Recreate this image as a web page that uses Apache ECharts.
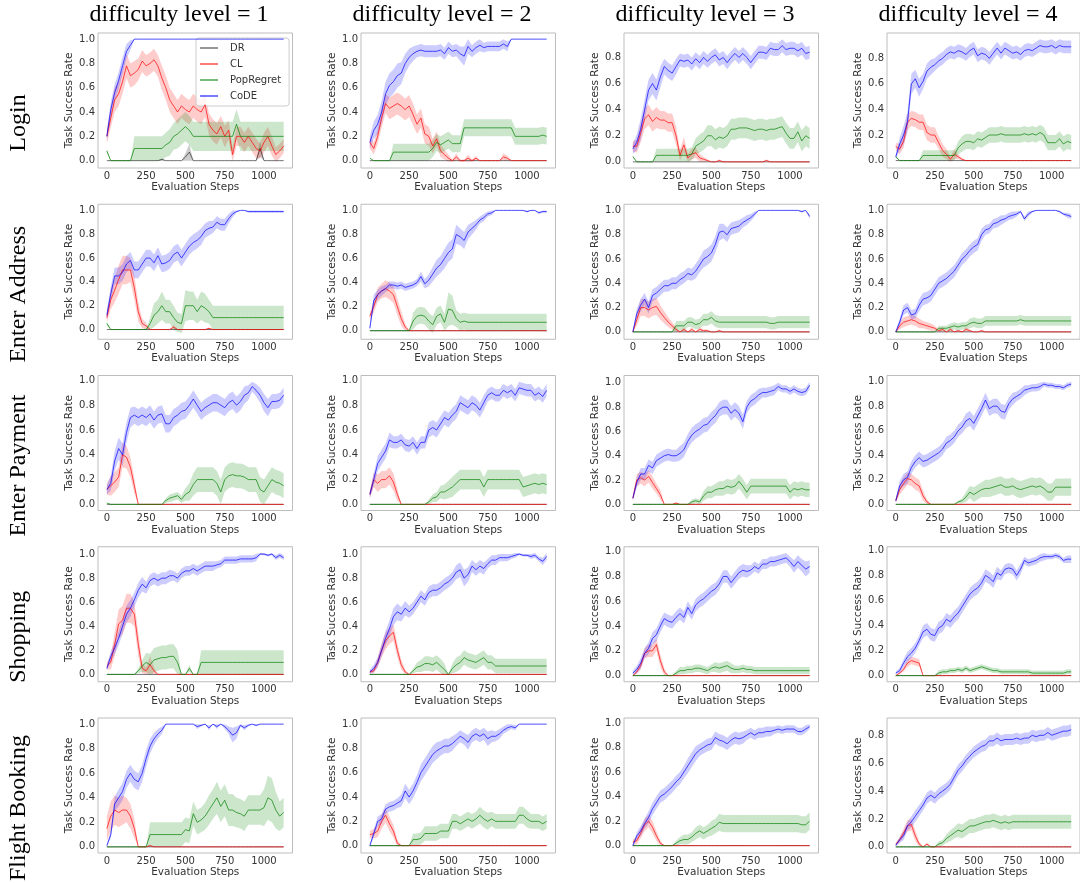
<!DOCTYPE html>
<html><head><meta charset="utf-8">
<script src="https://cdn.jsdelivr.net/npm/echarts@6/dist/echarts.min.js"></script>
<style>html,body{margin:0;padding:0;background:#fff}#c{width:1080px;height:883px}</style>
</head><body><div id="c"></div>
<script>
// ---------------- DATA (success rates in %) ----------------
const steps = [0,25,50,75,100,125,150,175,200,225, 250,275,300,325,350,375,400,425,450,475, 500,525,550,575,600,625,650,675,700,725, 750,775,800,825,850,875,900,925,950,975, 1000,1025,1050,1075,1100,1125];
const rowNames = ['Login','Enter Address','Enter Payment','Shopping','Flight Booking'];
const colTitles = ['difficulty level = 1','difficulty level = 2','difficulty level = 3','difficulty level = 4'];
const methods = ['DR','CL','PopRegret','CoDE'];
const xTicks = [0,250,500,750,1000];
const yTicks = [0,0.2,0.4,0.6,0.8,1.0];

const drFlat = [0,0,0,0,0,0,0,0,0,0, 0,0,0,0,0,0,0,0,0,0, 0,0,0,0,0,0,0,0,0,0, 0,0,0,0,0,0,0,0,0,0, 0,0,0,0,0,0];

// Login
const r1c1_dr = [0,0,0,0,0,0,0,0,0,0, 0,0,0,0,1,0,0,0,0,0, 3,7,0,0,0,0,0,0,0,0, 0,0,0,0,0,0,0,0,0,10, 0,0,0,0,0,0];
const r1c1_drSd = [0,0,0,0,0,0,0,0,0,0, 0,0,0,0,1,0,0,0,0,0, 3,7,0,0,0,0,0,0,0,0, 0,0,0,0,0,0,0,0,0,7, 0,0,0,0,0,0];
const r1c1_cl = [20,35,50,55,65,78,70,72,75,82, 78,80,83,78,68,60,50,45,40,45, 42,40,45,42,40,46,30,25,22,28, 20,25,5,20,20,15,20,15,10,8, 15,20,12,5,8,12];
const r1c1_clSd = [6,8,10,10,10,10,10,10,9,9, 9,9,9,9,10,10,10,10,10,10, 10,10,10,10,10,10,9,9,9,9, 9,8,6,8,8,8,8,8,8,6, 8,8,8,6,6,6];
const r1c1_pr = [8,0,0,0,0,0,0,10,10,10, 10,10,10,10,10,13,15,20,22,25, 28,25,20,20,20,20,20,20,20,20, 20,20,20,30,20,20,20,20,20,20, 20,20,20,20,20,20];
const r1c1_prSd = [2,0,0,0,0,0,0,10,10,10, 10,10,10,10,10,10,11,11,12,12, 12,12,12,12,12,12,12,12,12,12, 12,12,12,12,12,12,12,12,12,12, 12,12,12,12,12,12];
const r1c1_code = [20,42,56,66,78,90,95,100,100,100, 100,100,100,100,100,100,100,100,100,100, 100,100,100,100,100,100,100,100,100,100, 100,100,100,100,100,100,100,100,100,100, 100,100,100,100,100,100];
const r1c1_codeSd = [4,6,7,7,7,6,4,0,0,0, 0,0,0,0,0,0,0,0,0,0, 0,0,0,0,0,0,0,0,0,0, 0,0,0,0,0,0,0,0,0,0, 0,0,0,0,0,0];

const r1c2_cl = [15,10,20,35,47,43,45,47,45,42, 45,38,30,35,22,20,12,18,8,5, 2,0,3,0,0,2,0,2,0,0, 0,0,0,0,3,2,0,0,0,0, 0,0,0,0,0,0];
const r1c2_clSd = [5,5,6,8,8,9,9,9,9,9, 9,9,8,8,8,8,6,6,5,4, 3,1,3,1,1,3,1,2,0,0, 0,0,0,0,3,2,0,0,0,0, 0,0,0,0,0,0];
const r1c2_pr = [2,0,0,0,0,0,7,7,7,7, 7,7,7,7,7,7,10,15,13,15, 17,14,14,14,27,27,27,27,27,27, 27,27,27,27,27,27,27,20,20,20, 20,20,20,20,21,20];
const r1c2_prSd = [0,0,0,0,0,0,7,7,7,7, 7,7,7,7,7,7,7,7,7,7, 7,7,7,7,7,7,7,7,7,7, 7,7,7,7,7,7,7,7,7,7, 7,7,7,7,7,7];
const r1c2_code = [15,25,30,40,55,62,65,70,72,80, 85,88,90,91,90,90,90,90,91,88, 93,90,91,88,86,94,90,93,95,93, 94,94,94,94,96,94,100,100,100,100, 100,100,100,100,100,100];
const r1c2_codeSd = [5,7,8,9,10,10,10,10,9,8, 7,6,5,5,5,5,5,5,5,5, 5,5,5,6,8,6,5,5,5,4, 4,4,4,4,4,4,0,0,0,0, 0,0,0,0,0,0];

const r1c3_cl = [12,12,22,33,36,31,34,32,32,30, 30,20,5,13,3,6,7,3,2,1, 0,0,1,0,0,0,0,0,0,0, 0,0,0,0,1,0,0,0,0,0, 0,0,0,0,0,0];
const r1c3_clSd = [4,5,7,8,8,8,8,7,7,7, 7,7,4,6,3,4,4,3,2,1, 0,0,1,0,0,0,0,0,0,0, 0,0,0,0,1,0,0,0,0,0, 0,0,0,0,0,0];
const r1c3_pr = [4,0,0,0,0,0,5,5,5,5, 5,5,5,5,5,6,12,14,16,20, 20,17,19,18,20,25,25,26,26,26, 25,24,25,25,24,25,25,26,27,22, 18,18,23,16,20,18];
const r1c3_prSd = [1,0,0,0,0,0,5,5,5,5, 5,5,5,5,5,5,6,7,7,8, 8,8,8,8,8,8,8,8,8,8, 8,8,8,8,8,8,8,8,8,8, 8,8,8,8,8,8];
const r1c3_code = [10,15,25,40,55,60,55,65,73,70, 68,73,78,77,78,75,79,76,80,77, 80,82,78,80,76,80,83,80,83,80, 76,80,84,84,83,87,86,86,89,86, 87,87,85,87,83,84];
const r1c3_codeSd = [4,6,8,8,8,8,8,8,6,6, 6,6,5,5,5,5,5,5,5,5, 5,5,5,5,5,5,5,5,5,5, 5,5,5,5,5,5,5,5,5,5, 5,5,5,5,5,5];

const r1c4_cl = [11,9,15,30,33,32,30,30,22,20, 20,14,8,5,1,5,3,1,0,0, 0,0,0,0,0,0,0,0,0,0, 0,0,0,0,0,0,0,0,0,0, 0,0,0,0,0,0];
const r1c4_clSd = [3,4,5,6,6,6,6,6,6,6, 6,5,5,4,2,4,2,1,0,0, 0,0,0,0,0,0,0,0,0,0, 0,0,0,0,0,0,0,0,0,0, 0,0,0,0,0,0];
const r1c4_pr = [3,0,0,0,0,0,0,4,4,4, 4,4,4,4,4,4,10,13,15,15, 14,17,16,18,20,20,20,21,20,20, 20,20,20,21,20,21,20,22,20,14, 14,14,17,13,15,14];
const r1c4_prSd = [1,0,0,0,0,0,0,4,4,4, 4,4,4,4,4,4,5,6,6,6, 6,6,6,6,6,6,6,6,6,6, 6,6,6,6,6,6,6,6,6,6, 6,6,6,6,6,6];
const r1c4_code = [3,13,20,30,60,64,57,62,70,73, 75,78,80,83,85,84,86,85,83,86, 88,82,84,83,80,84,88,84,88,86, 84,85,83,86,87,86,88,90,89,89, 90,88,90,89,89,89];
const r1c4_codeSd = [2,5,7,8,8,7,7,6,6,6, 5,5,5,5,5,5,5,5,5,5, 5,5,5,5,5,5,5,5,5,5, 5,5,5,5,5,5,5,5,5,5, 5,5,5,5,5,5];

// Enter Address
const r2c1_cl = [10,25,33,42,50,50,50,35,15,5, 3,0,0,0,0,0,0,2,0,0, 0,0,0,0,0,0,1,0,0,0, 0,0,0,0,0,0,0,0,0,0, 0,0,0,0,0,0];
const r2c1_clSd = [4,8,10,12,12,12,10,10,8,4, 3,0,0,0,0,0,0,2,0,0, 0,0,0,0,0,0,1,0,0,0, 0,0,0,0,0,0,0,0,0,0, 0,0,0,0,0,0];
const r2c1_pr = [5,0,0,0,0,0,0,0,0,0, 0,5,12,15,20,15,15,10,6,5, 20,20,20,15,20,18,15,10,10,10, 10,10,10,10,10,10,10,10,10,10, 10,10,10,10,10,10];
const r2c1_prSd = [2,0,0,0,0,0,0,0,0,0, 0,5,10,10,12,10,10,10,8,8, 13,12,12,10,12,12,10,10,10,10, 10,10,10,10,10,10,10,10,10,10, 10,10,10,10,10,10];
const r2c1_code = [12,30,45,45,48,55,58,50,50,55, 60,60,56,62,55,56,58,63,65,60, 65,70,73,75,78,83,85,86,90,88, 88,93,97,99,100,100,99,99,99,99, 99,99,99,99,99,99];
const r2c1_codeSd = [4,6,7,7,7,7,7,7,7,7, 7,7,7,7,7,7,7,7,7,7, 7,7,7,7,7,6,6,5,5,5, 5,4,3,1,0,0,1,1,1,1, 1,1,1,1,1,1];

const r2c2_cl = [12,20,30,33,35,33,30,20,10,3, 0,0,0,0,0,0,0,0,0,0, 0,0,0,0,0,0,0,0,0,0, 0,0,0,0,0,0,0,0,0,0, 0,0,0,0,0,0];
const r2c2_clSd = [3,5,6,6,7,7,7,7,6,3, 0,0,0,0,0,0,0,0,0,0, 0,0,0,0,0,0,0,0,0,0, 0,0,0,0,0,0,0,0,0,0, 0,0,0,0,0,0];
const r2c2_pr = [0,0,0,0,0,0,0,0,0,0, 0,8,12,13,12,8,5,12,14,7, 18,17,10,7,8,7,7,7,7,7, 7,7,7,7,7,7,7,7,7,7, 7,7,7,7,7,7];
const r2c2_prSd = [0,0,0,0,0,0,0,0,0,0, 0,7,7,7,7,7,7,7,7,7, 14,12,7,7,7,7,7,7,7,7, 7,7,7,7,7,7,7,7,7,7, 7,7,7,7,7,7];
const r2c2_code = [2,25,30,33,35,38,38,37,38,36, 37,38,40,45,39,42,47,52,55,60, 65,68,80,78,75,82,85,88,92,94, 97,98,100,100,100,100,100,100,100,100, 99,100,100,98,99,99];
const r2c2_codeSd = [2,5,4,4,3,3,3,3,3,3, 3,3,3,4,4,5,6,7,7,8, 8,8,8,7,7,6,5,4,3,3, 2,2,0,0,0,0,0,0,0,0, 1,0,0,1,1,1];

const r2c3_cl = [0,10,20,20,18,20,21,16,12,8, 5,2,0,2,0,2,0,2,1,1, 0,0,1,0,0,0,0,0,0,0, 0,0,0,0,0,0,0,0,0,0, 0,0,0,0,0,0];
const r2c3_clSd = [0,5,7,7,7,7,7,6,5,4, 3,2,0,2,0,2,0,2,1,1, 0,0,1,0,0,0,0,0,0,0, 0,0,0,0,0,0,0,0,0,0, 0,0,0,0,0,0];
const r2c3_pr = [0,0,0,0,0,0,0,0,0,0, 0,5,5,5,8,8,6,7,10,10, 12,9,8,8,8,8,8,8,8,8, 8,8,8,8,8,7,7,8,8,8, 8,8,8,8,8,8];
const r2c3_prSd = [0,0,0,0,0,0,0,0,0,0, 0,4,4,4,4,4,4,4,5,5, 5,5,5,5,5,5,5,5,5,5, 5,5,5,5,5,5,5,5,5,5, 5,5,5,5,5,5];
const r2c3_code = [0,15,22,27,20,30,32,35,38,38, 40,40,43,45,48,47,50,55,60,62, 65,72,82,83,80,85,86,87,90,92, 94,97,100,100,100,100,100,100,100,100, 100,100,100,99,100,95];
const r2c3_codeSd = [1,4,5,5,5,5,5,5,5,5, 5,5,5,5,5,5,6,6,7,7, 7,7,7,6,6,5,5,5,4,4, 3,2,0,0,0,0,0,0,0,0, 0,0,0,1,0,2];

const r2c4_cl = [0,5,8,9,10,9,7,6,5,4, 3,1,2,0,2,0,1,0,2,1, 0,0,1,0,0,0,0,0,0,0, 0,0,0,0,0,0,0,0,0,0, 0,0,0,0,0,0];
const r2c4_clSd = [0,3,4,4,4,4,4,3,3,3, 2,1,2,0,2,0,1,0,2,1, 0,0,1,0,0,0,0,0,0,0, 0,0,0,0,0,0,0,0,0,0, 0,0,0,0,0,0];
const r2c4_pr = [0,0,0,0,0,0,0,0,0,0, 0,3,3,3,4,5,4,5,5,7, 8,7,7,9,9,9,9,9,9,9, 9,9,10,9,9,9,9,9,9,9, 9,9,9,9,9,9];
const r2c4_prSd = [0,0,0,0,0,0,0,0,0,0, 0,2,2,2,3,3,3,3,3,4, 4,4,4,4,4,4,4,4,4,4, 4,4,4,4,4,4,4,4,4,4, 4,4,4,4,4,4];
const r2c4_code = [0,8,18,20,14,15,22,27,28,30, 35,40,42,44,47,50,55,60,63,67, 70,72,80,84,85,89,90,92,93,95, 96,97,99,93,97,99,100,100,100,100, 100,100,99,97,96,95];
const r2c4_codeSd = [1,3,4,4,4,4,5,5,5,5, 5,5,5,5,5,5,5,5,5,5, 5,5,5,4,4,4,4,4,3,3, 3,2,1,2,2,1,0,0,0,0, 0,0,1,1,2,2];

// Enter Payment
const r3c1_cl = [12,15,18,22,40,38,30,15,0,0, 0,0,0,0,0,0,0,0,0,0, 0,0,0,0,0,0,0,0,0,0, 0,0,0,0,0,0,0,0,0,0, 0,0,0,0,0,0];
const r3c1_clSd = [4,8,8,8,10,9,8,6,0,0, 0,0,0,0,0,0,0,0,0,0, 0,0,0,0,0,0,0,0,0,0, 0,0,0,0,0,0,0,0,0,0, 0,0,0,0,0,0];
const r3c1_pr = [1,0,0,0,0,0,0,0,0,0, 0,0,0,0,0,3,5,6,7,4, 8,10,16,20,20,20,20,20,17,10, 20,23,24,23,23,22,20,20,20,12, 10,15,20,18,17,15];
const r3c1_prSd = [0,0,0,0,0,0,0,0,0,0, 0,0,0,0,0,2,3,3,3,3, 5,7,9,10,10,10,10,10,10,10, 10,10,10,10,10,10,10,10,10,10, 10,10,10,10,10,10];
const r3c1_code = [12,17,35,45,40,58,70,72,70,72, 70,73,68,72,73,65,65,70,72,75, 76,80,85,80,75,78,80,82,82,80, 78,82,84,80,83,88,90,95,92,88, 82,78,83,83,84,88];
const r3c1_codeSd = [4,6,8,9,9,8,8,7,7,7, 7,7,7,7,7,7,7,7,7,7, 7,7,7,7,7,7,7,7,7,7, 7,7,7,7,7,7,6,4,5,6, 7,7,6,6,6,6];

const r3c2_cl = [8,20,17,20,20,23,18,8,0,0, 0,0,0,0,0,0,0,0,0,0, 0,0,0,0,0,0,0,0,0,0, 0,0,0,0,0,0,0,0,0,0, 0,0,0,0,0,0];
const r3c2_clSd = [3,6,7,7,7,7,7,5,0,0, 0,0,0,0,0,0,0,0,0,0, 0,0,0,0,0,0,0,0,0,0, 0,0,0,0,0,0,0,0,0,0, 0,0,0,0,0,0];
const r3c2_pr = [0,0,0,0,0,0,0,0,0,0, 0,0,0,0,0,2,5,6,10,10, 12,14,17,20,20,20,20,20,20,14, 20,20,20,20,20,20,20,20,20,14, 15,16,17,16,17,16];
const r3c2_prSd = [0,0,0,0,0,0,0,0,0,0, 0,0,0,0,0,2,3,4,5,6, 7,8,8,8,8,8,8,8,8,8, 8,8,8,8,8,8,8,8,8,8, 8,8,8,8,8,8];
const r3c2_code = [8,20,33,38,43,52,50,50,52,48, 47,50,45,50,50,60,62,60,65,70, 68,72,75,82,80,78,82,80,76,82, 88,90,88,88,92,90,92,88,94,93, 92,92,88,90,87,92];
const r3c2_codeSd = [3,5,6,6,6,6,5,5,5,5, 5,5,5,5,5,6,6,6,6,6, 6,6,6,6,6,6,6,6,6,6, 5,5,5,5,5,5,5,5,5,5, 5,5,5,5,5,5];

const r3c3_cl = [5,20,22,20,23,18,13,8,0,0, 0,1,0,0,0,0,0,0,0,0, 0,0,0,0,0,0,0,0,0,0, 0,0,0,0,0,0,0,0,0,0, 0,0,0,0,0,0];
const r3c3_clSd = [2,5,5,5,5,5,4,4,0,0, 0,1,0,0,0,0,0,0,0,0, 0,0,0,0,0,0,0,0,0,0, 0,0,0,0,0,0,0,0,0,0, 0,0,0,0,0,0];
const r3c3_pr = [0,0,0,0,0,0,0,0,0,0, 0,0,0,0,0,2,3,2,7,10, 10,12,13,13,15,14,15,19,15,10, 15,15,15,15,15,15,15,15,15,15, 10,13,12,13,12,12];
const r3c3_prSd = [0,0,0,0,0,0,0,0,0,0, 0,0,0,0,0,2,2,2,4,5, 5,5,6,6,6,6,6,6,6,6, 6,6,6,6,6,6,6,6,6,6, 6,6,6,6,6,6];
const r3c3_code = [5,18,25,25,32,30,36,38,40,41, 40,40,42,45,52,57,60,62,65,66, 70,73,78,80,80,75,78,75,68,80, 85,87,90,92,92,93,94,97,95,95, 93,95,93,92,93,98];
const r3c3_codeSd = [2,4,5,5,5,5,5,5,5,5, 5,5,6,6,6,6,6,6,6,6, 6,6,6,6,6,6,6,6,6,5, 5,5,5,4,4,4,4,3,3,3, 3,3,3,3,3,3];

const r3c4_cl = [3,12,17,21,20,17,15,7,2,0, 0,0,0,0,0,0,0,0,0,0, 0,0,0,0,0,0,0,0,0,0, 0,0,0,0,0,0,0,0,0,0, 0,0,0,0,0,0];
const r3c4_clSd = [2,4,5,5,5,5,5,4,2,0, 0,0,0,0,0,0,0,0,0,0, 0,0,0,0,0,0,0,0,0,0, 0,0,0,0,0,0,0,0,0,0, 0,0,0,0,0,0];
const r3c4_pr = [0,0,0,0,0,0,0,0,0,0, 0,0,0,0,0,0,2,3,6,10, 8,10,12,13,13,14,15,16,14,14, 15,13,12,13,14,15,14,15,13,10, 10,14,14,14,14,14];
const r3c4_prSd = [0,0,0,0,0,0,0,0,0,0, 0,0,0,0,0,0,1,2,4,5, 6,6,6,7,7,7,7,7,7,7, 7,7,7,7,7,7,7,7,7,7, 7,7,7,7,7,7];
const r3c4_code = [3,15,20,22,30,35,38,35,36,38, 40,42,45,50,52,55,60,63,68,70, 66,72,78,85,78,80,80,76,75,82, 86,88,90,93,94,95,95,96,98,97, 97,96,96,95,97,98];
const r3c4_codeSd = [2,4,5,5,5,5,5,5,5,5, 5,5,5,5,5,5,5,5,6,6, 6,6,6,6,6,6,6,6,6,5, 5,4,4,4,3,3,3,3,2,2, 2,2,2,2,2,2];

// Shopping
const r4c1_cl = [7,10,25,42,45,55,55,50,25,5, 3,8,3,0,0,0,0,0,0,0, 0,0,0,0,0,0,0,0,0,0, 0,0,0,0,0,0,0,0,0,0, 0,0,0,0,0,0];
const r4c1_clSd = [3,6,10,12,12,12,12,10,10,4, 3,7,3,0,0,0,0,0,0,0, 0,0,0,0,0,0,0,0,0,0, 0,0,0,0,0,0,0,0,0,0, 0,0,0,0,0,0];
const r4c1_pr = [0,0,0,0,0,0,0,0,3,7, 10,8,12,13,14,14,15,15,10,0, 0,5,0,0,10,10,10,10,10,10, 10,10,10,10,10,10,10,10,10,10, 10,10,10,10,10,10];
const r4c1_prSd = [0,0,0,0,0,0,0,0,2,5, 8,9,10,10,10,10,10,10,10,0, 0,3,0,0,10,10,10,10,10,10, 10,10,10,10,10,10,10,10,10,10, 10,10,10,10,10,10];
const r4c1_code = [5,15,22,30,40,50,55,62,70,75, 72,78,80,78,80,80,82,82,80,84, 86,86,88,86,88,90,90,90,91,92, 95,95,95,95,96,96,96,96,97,100, 100,99,100,97,99,97];
const r4c1_codeSd = [2,4,5,6,6,7,7,6,6,6, 5,5,5,5,5,5,5,4,4,4, 4,4,4,4,4,4,4,4,3,3, 3,3,3,3,3,3,3,3,3,1, 1,1,1,2,2,2];

const r4c2_cl = [2,3,10,20,28,32,35,20,8,2, 0,0,0,0,0,0,0,0,0,0, 0,0,0,0,0,0,0,0,0,0, 0,0,0,0,0,0,0,0,0,0, 0,0,0,0,0,0];
const r4c2_clSd = [1,2,4,6,7,7,7,6,4,2, 0,0,0,0,0,0,0,0,0,0, 0,0,0,0,0,0,0,0,0,0, 0,0,0,0,0,0,0,0,0,0, 0,0,0,0,0,0];
const r4c2_pr = [0,0,0,0,0,0,0,0,0,0, 0,3,6,7,9,9,8,10,7,4, 0,5,8,10,14,12,11,10,12,14, 10,10,7,7,7,7,7,7,7,7, 7,7,7,7,7,7];
const r4c2_prSd = [0,0,0,0,0,0,0,0,0,0, 0,2,4,5,6,6,6,6,6,5, 0,4,6,6,6,6,6,6,6,6, 6,6,6,6,6,6,6,6,6,6, 6,6,6,6,6,6];
const r4c2_code = [2,5,10,20,30,38,48,52,50,55, 52,55,60,65,62,68,70,70,72,75, 77,80,85,87,80,83,90,87,90,88, 92,95,95,97,97,97,98,99,100,99, 99,98,99,96,94,98];
const r4c2_codeSd = [2,3,4,5,6,7,7,7,6,6, 5,5,5,5,5,5,5,5,5,5, 5,5,6,6,7,6,5,5,5,5, 4,4,4,3,3,3,2,2,1,1, 1,2,2,2,3,3];

const r4c3_cl = [0,3,8,18,20,20,25,12,3,0, 0,0,0,0,0,0,0,0,0,0, 0,0,0,0,0,0,0,0,0,0, 0,0,0,0,0,0,0,0,0,0, 0,0,0,0,0,0];
const r4c3_clSd = [0,2,3,4,5,5,5,5,3,0, 0,0,0,0,0,0,0,0,0,0, 0,0,0,0,0,0,0,0,0,0, 0,0,0,0,0,0,0,0,0,0, 0,0,0,0,0,0];
const r4c3_pr = [0,0,0,0,0,0,0,0,0,0, 0,2,4,4,5,5,6,6,5,4, 6,7,6,7,8,6,5,5,6,5, 5,4,4,4,4,4,4,4,4,4, 4,4,4,4,4,4];
const r4c3_prSd = [0,0,0,0,0,0,0,0,0,0, 0,2,3,3,3,3,3,3,3,3, 3,4,4,4,4,4,3,3,3,3, 3,3,3,3,3,3,3,3,3,3, 3,3,3,3,3,3];
const r4c3_code = [2,5,10,18,22,30,33,40,46,44, 43,47,50,47,55,50,57,60,62,65, 68,70,74,80,80,75,79,83,85,84, 85,88,86,90,90,92,92,93,94,95, 92,88,92,89,86,88];
const r4c3_codeSd = [2,3,4,4,5,5,5,5,5,5, 5,5,5,5,5,5,5,5,5,5, 5,5,5,5,5,5,5,5,5,5, 4,4,4,4,4,4,4,4,4,4, 4,5,5,5,6,5];

const r4c4_cl = [0,2,5,10,12,11,10,0,0,0, 0,0,0,0,0,0,0,0,0,0, 0,0,0,0,0,0,0,0,0,0, 0,0,0,0,0,0,0,0,0,0, 0,0,0,0,0,0];
const r4c4_clSd = [0,1,2,3,3,3,3,0,0,0, 0,0,0,0,0,0,0,0,0,0, 0,0,0,0,0,0,0,0,0,0, 0,0,0,0,0,0,0,0,0,0, 0,0,0,0,0,0];
const r4c4_pr = [0,0,0,0,0,0,0,0,0,0, 0,2,3,3,4,4,5,4,6,4, 5,6,7,6,5,4,4,3,3,3, 3,3,3,3,3,2,2,2,2,2, 2,2,2,2,3,3];
const r4c4_prSd = [0,0,0,0,0,0,0,0,0,0, 0,2,2,2,2,2,2,2,2,2, 2,2,2,2,2,2,2,2,2,2, 2,2,2,2,2,2,2,2,2,2, 2,2,2,2,2,2];
const r4c4_code = [2,4,10,15,18,22,28,35,37,33, 32,38,40,45,43,47,50,55,60,65, 68,70,74,80,78,75,82,80,85,86, 85,80,85,92,90,91,92,94,95,95, 95,96,95,92,93,93];
const r4c4_codeSd = [1,2,3,4,4,4,4,5,5,5, 5,5,5,5,5,5,5,5,5,5, 5,5,5,5,5,5,5,4,4,4, 4,4,4,3,3,3,3,3,3,2, 2,2,2,2,3,3];

// Flight Booking
const r5c1_cl = [15,25,30,28,30,30,25,15,0,0, 0,1,0,0,0,0,0,0,0,0, 0,0,0,0,0,0,0,0,0,0, 0,0,0,0,0,0,0,0,0,0, 0,0,0,0,0,0];
const r5c1_clSd = [10,12,12,12,12,10,10,8,0,0, 0,1,0,0,0,0,0,0,0,0, 0,0,0,0,0,0,0,0,0,0, 0,0,0,0,0,0,0,0,0,0, 0,0,0,0,0,0];
const r5c1_pr = [0,0,0,0,0,0,0,0,0,0, 0,10,10,10,10,10,10,10,10,10, 14,13,27,20,22,25,30,35,40,33, 38,30,30,28,27,25,30,30,30,30, 32,40,38,30,25,28];
const r5c1_prSd = [0,0,0,0,0,0,0,0,0,0, 0,10,10,10,10,10,10,10,10,10, 10,10,10,10,10,11,12,12,13,13, 13,13,13,12,12,12,12,12,12,12, 15,18,18,15,12,12];
const r5c1_code = [1,10,35,40,45,55,60,55,53,60, 72,82,88,92,95,100,100,100,100,100, 100,100,100,98,99,100,97,100,98,100, 98,95,91,93,99,97,99,100,99,100, 100,100,100,100,100,100];
const r5c1_codeSd = [1,3,6,7,7,7,7,7,7,7, 7,6,5,4,3,0,0,0,0,0, 0,0,0,2,1,0,2,0,2,0, 2,3,6,5,1,2,1,0,1,0, 0,0,0,0,0,0];

const r5c2_cl = [9,10,12,20,25,18,12,2,0,0, 0,0,0,0,0,0,0,0,0,0, 0,0,0,0,0,0,0,0,0,0, 0,0,0,0,0,0,0,0,0,0, 0,0,0,0,0,0];
const r5c2_clSd = [3,4,5,6,6,6,5,3,0,0, 0,0,0,0,0,0,0,0,0,0, 0,0,0,0,0,0,0,0,0,0, 0,0,0,0,0,0,0,0,0,0, 0,0,0,0,0,0];
const r5c2_pr = [0,0,0,0,0,0,0,0,0,0, 0,5,5,6,10,10,10,10,12,12, 12,20,20,18,20,22,20,22,25,22, 20,22,20,20,20,20,20,20,25,25, 22,20,20,20,18,20];
const r5c2_prSd = [0,0,0,0,0,0,0,0,0,0, 0,5,5,5,6,6,6,6,6,6, 6,6,6,6,6,6,6,6,7,7, 7,6,6,6,6,6,6,6,7,7, 7,6,6,6,6,6];
const r5c2_code = [0,10,20,22,30,32,33,35,37,45, 40,45,52,60,65,70,75,78,80,82, 82,84,87,90,88,85,90,92,90,92, 88,90,90,92,95,97,98,97,100,100, 100,100,100,100,100,100];
const r5c2_codeSd = [1,3,4,4,4,4,4,4,5,6, 6,6,6,7,7,7,7,7,6,6, 6,6,5,5,5,6,5,5,5,5, 6,5,4,4,3,3,2,2,0,0, 0,0,0,0,0,0];

const r5c3_cl = [3,4,10,17,20,15,8,2,0,0, 0,0,0,0,0,0,0,0,0,0, 0,0,0,0,0,0,0,0,0,0, 0,0,0,0,0,0,0,0,0,0, 0,0,0,0,0,0];
const r5c3_clSd = [2,3,4,5,5,5,4,2,0,0, 0,0,0,0,0,0,0,0,0,0, 0,0,0,0,0,0,0,0,0,0, 0,0,0,0,0,0,0,0,0,0, 0,0,0,0,0,0];
const r5c3_pr = [0,0,0,0,0,0,0,0,0,0, 0,2,4,5,5,7,10,12,10,12, 14,16,19,18,18,18,18,18,18,18, 18,18,18,18,18,18,18,18,18,18, 18,18,18,17,17,20];
const r5c3_prSd = [0,0,0,0,0,0,0,0,0,0, 0,2,3,4,4,4,5,5,5,5, 6,6,7,7,7,7,7,7,7,7, 7,7,7,7,7,7,7,7,7,7, 7,7,7,7,7,7];
const r5c3_code = [0,8,12,18,23,30,35,40,42,45, 48,52,55,60,65,70,75,78,80,82, 83,88,86,85,83,86,88,87,88,90, 92,90,92,92,93,93,94,95,94,95, 95,95,93,93,95,97];
const r5c3_codeSd = [1,3,4,4,5,5,5,5,5,5, 5,5,5,5,6,6,6,5,5,5, 5,5,5,5,5,5,5,5,5,4, 4,4,4,4,4,4,3,3,3,3, 3,3,3,3,3,2];

const r5c4_cl = [2,5,10,15,16,8,2,0,2,0, 0,0,0,0,0,0,0,0,0,0, 0,0,0,0,0,0,0,0,0,0, 0,0,0,0,0,0,0,0,0,0, 0,0,0,0,0,0];
const r5c4_clSd = [1,2,3,4,4,4,2,0,1,0, 0,0,0,0,0,0,0,0,0,0, 0,0,0,0,0,0,0,0,0,0, 0,0,0,0,0,0,0,0,0,0, 0,0,0,0,0,0];
const r5c4_pr = [0,0,0,0,0,0,0,0,0,0, 0,2,3,6,8,10,12,11,13,15, 15,16,17,18,18,19,18,17,18,17, 18,18,18,18,18,18,18,18,18,18, 18,18,18,18,18,18];
const r5c4_prSd = [0,0,0,0,0,0,0,0,0,0, 0,2,2,3,4,4,5,5,5,5, 5,5,5,5,5,5,5,5,5,5, 5,5,5,5,5,5,5,5,5,5, 5,5,5,5,5,5];
const r5c4_code = [1,5,8,15,18,22,26,30,35,37, 35,38,40,42,45,50,55,58,62,65, 68,70,72,73,76,76,78,76,77,77, 77,78,77,78,78,80,79,80,80,82, 80,81,82,83,83,84];
const r5c4_codeSd = [1,2,3,3,4,4,4,4,4,4, 4,4,4,4,4,4,4,4,4,4, 4,4,4,4,4,4,4,4,4,4, 4,4,4,4,4,4,4,4,4,4, 4,4,4,4,4,4];

// ---------------- assembly ----------------
function P(dr, drSd, cl, clSd, pr, prSd, code, codeSd){
  return {DR:[dr,drSd], CL:[cl,clSd], PopRegret:[pr,prSd], CoDE:[code,codeSd]};
}
const panels = [
  P(r1c1_dr,r1c1_drSd,r1c1_cl,r1c1_clSd,r1c1_pr,r1c1_prSd,r1c1_code,r1c1_codeSd),
  P(drFlat,drFlat,r1c2_cl,r1c2_clSd,r1c2_pr,r1c2_prSd,r1c2_code,r1c2_codeSd),
  P(drFlat,drFlat,r1c3_cl,r1c3_clSd,r1c3_pr,r1c3_prSd,r1c3_code,r1c3_codeSd),
  P(drFlat,drFlat,r1c4_cl,r1c4_clSd,r1c4_pr,r1c4_prSd,r1c4_code,r1c4_codeSd),
  P(drFlat,drFlat,r2c1_cl,r2c1_clSd,r2c1_pr,r2c1_prSd,r2c1_code,r2c1_codeSd),
  P(drFlat,drFlat,r2c2_cl,r2c2_clSd,r2c2_pr,r2c2_prSd,r2c2_code,r2c2_codeSd),
  P(drFlat,drFlat,r2c3_cl,r2c3_clSd,r2c3_pr,r2c3_prSd,r2c3_code,r2c3_codeSd),
  P(drFlat,drFlat,r2c4_cl,r2c4_clSd,r2c4_pr,r2c4_prSd,r2c4_code,r2c4_codeSd),
  P(drFlat,drFlat,r3c1_cl,r3c1_clSd,r3c1_pr,r3c1_prSd,r3c1_code,r3c1_codeSd),
  P(drFlat,drFlat,r3c2_cl,r3c2_clSd,r3c2_pr,r3c2_prSd,r3c2_code,r3c2_codeSd),
  P(drFlat,drFlat,r3c3_cl,r3c3_clSd,r3c3_pr,r3c3_prSd,r3c3_code,r3c3_codeSd),
  P(drFlat,drFlat,r3c4_cl,r3c4_clSd,r3c4_pr,r3c4_prSd,r3c4_code,r3c4_codeSd),
  P(drFlat,drFlat,r4c1_cl,r4c1_clSd,r4c1_pr,r4c1_prSd,r4c1_code,r4c1_codeSd),
  P(drFlat,drFlat,r4c2_cl,r4c2_clSd,r4c2_pr,r4c2_prSd,r4c2_code,r4c2_codeSd),
  P(drFlat,drFlat,r4c3_cl,r4c3_clSd,r4c3_pr,r4c3_prSd,r4c3_code,r4c3_codeSd),
  P(drFlat,drFlat,r4c4_cl,r4c4_clSd,r4c4_pr,r4c4_prSd,r4c4_code,r4c4_codeSd),
  P(drFlat,drFlat,r5c1_cl,r5c1_clSd,r5c1_pr,r5c1_prSd,r5c1_code,r5c1_codeSd),
  P(drFlat,drFlat,r5c2_cl,r5c2_clSd,r5c2_pr,r5c2_prSd,r5c2_code,r5c2_codeSd),
  P(drFlat,drFlat,r5c3_cl,r5c3_clSd,r5c3_pr,r5c3_prSd,r5c3_code,r5c3_codeSd),
  P(drFlat,drFlat,r5c4_cl,r5c4_clSd,r5c4_pr,r5c4_prSd,r5c4_code,r5c4_codeSd)
];

const lineColor = {DR:'rgba(0,0,0,0.55)', CL:'rgba(255,0,0,0.7)', PopRegret:'rgba(0,128,0,0.7)', CoDE:'rgba(0,0,255,0.7)'};
const bandColor = {DR:'rgba(0,0,0,0.2)', CL:'rgba(255,0,0,0.2)', PopRegret:'rgba(0,128,0,0.2)', CoDE:'rgba(0,0,255,0.2)'};

const GL = 98, GP = 263, GT = 33, RP = 171.25, GW = 194.5, GH = 135;
const XMIN = -56.25, XMAX = 1181.25;
const tickFont = {fontFamily:'DejaVu Sans', fontSize:10, color:'#333'};

function bandRenderer(mean, sd, color, ymin, ymax) {
  const cl = v => Math.max(ymin, Math.min(ymax, v));
  return function (params, api) {
    const pts = [];
    for (let i = 0; i < steps.length; i++) pts.push(api.coord([steps[i], cl((mean[i] + sd[i]) / 100)]));
    for (let i = steps.length - 1; i >= 0; i--) pts.push(api.coord([steps[i], cl((mean[i] - sd[i]) / 100)]));
    return {type:'polygon', shape:{points:pts}, style:{fill:color}, silent:true};
  };
}

const grids = [], xAxes = [], yAxes = [], series = [];
panels.forEach((p, k) => {
  const r = Math.floor(k/4), c = k%4;
  grids.push({left: GL + GP*c, top: GT + RP*r, width: GW, height: GH, show: true,
    borderColor: '#bdbdbd', borderWidth: 1, backgroundColor: 'rgba(0,0,0,0)', containLabel: false});
  let lo = 0, hi = 0;
  methods.forEach(m => {
    const [mean, sd] = p[m];
    mean.forEach((v, i) => { hi = Math.max(hi, (v + sd[i]) / 100); lo = Math.min(lo, (v - sd[i]) / 100); });
  });
  const span = hi - lo;
  const ymin = lo - 0.05*span, ymax = hi + 0.05*span;
  xAxes.push({type:'value', gridIndex:k, min:XMIN, max:XMAX,
    axisLine:{show:false}, axisTick:{show:false}, splitLine:{show:false},
    axisLabel:Object.assign({customValues:xTicks, margin:3, formatter: v => String(v)}, tickFont),
    name:'Evaluation Steps', nameLocation:'middle', nameGap:14,
    nameTextStyle:{fontFamily:'DejaVu Sans', fontSize:10.5, color:'#333'}});
  yAxes.push({type:'value', gridIndex:k, min:ymin, max:ymax,
    axisLine:{show:false}, axisTick:{show:false}, splitLine:{show:false},
    axisLabel:Object.assign({customValues:yTicks.filter(v => v <= ymax + 1e-9), margin:3,
      formatter: v => Number(v).toFixed(1)}, tickFont),
    name:'Task Success Rate', nameLocation:'middle', nameGap:23, nameRotate:90,
    nameTextStyle:{fontFamily:'DejaVu Sans', fontSize:10.5, color:'#333'}});
  methods.forEach((m, mi) => {
    const [mean, sd] = p[m];
    if (sd.some(v => v > 0)) {
      series.push({type:'custom', xAxisIndex:k, yAxisIndex:k, silent:true, clip:true, z:1+mi,
        renderItem: bandRenderer(mean, sd, bandColor[m], ymin, ymax),
        data:[[steps[0], 0]]});
    }
    series.push({type:'line', name:m, xAxisIndex:k, yAxisIndex:k, symbol:'none', z:10+mi,
      lineStyle:{width:1, color:lineColor[m]}, itemStyle:{color:lineColor[m]},
      data: mean.map((v, i) => [steps[i], v / 100])});
  });
});

const graphic = [];
colTitles.forEach((t, c) => graphic.push({type:'text', x: 179 + GP*c, y: 15,
  style:{text:t, font:'24px "Liberation Serif", "Times New Roman", serif', fill:'#000', align:'center', verticalAlign:'middle'}}));
rowNames.forEach((t, r) => graphic.push({type:'text', x: 19, y: 123 + RP*r, rotation: Math.PI/2,
  style:{text:t, font:'24px "Liberation Serif", "Times New Roman", serif', fill:'#000', align:'center', verticalAlign:'middle'}}));

const chart = echarts.init(document.getElementById('c'), null, {renderer:'canvas'});
chart.setOption({
  animation:false,
  grid:grids, xAxis:xAxes, yAxis:yAxes, series:series, graphic:graphic,
  legend:{data:methods, orient:'vertical', left:196, top:38,
    icon:'path://M0,0 H18 V1.5 H0 Z M25,0 H25.01 V1.5 H25 Z', itemWidth:25, itemHeight:1.5,
    itemGap:6, padding:[5,8,5,4], borderColor:'#cccccc', borderWidth:1, borderRadius:3,
    backgroundColor:'rgba(255,255,255,0.8)', selectedMode:false,
    textStyle:{fontFamily:'DejaVu Sans', fontSize:10, color:'#333'}}
});
</script></body></html>
